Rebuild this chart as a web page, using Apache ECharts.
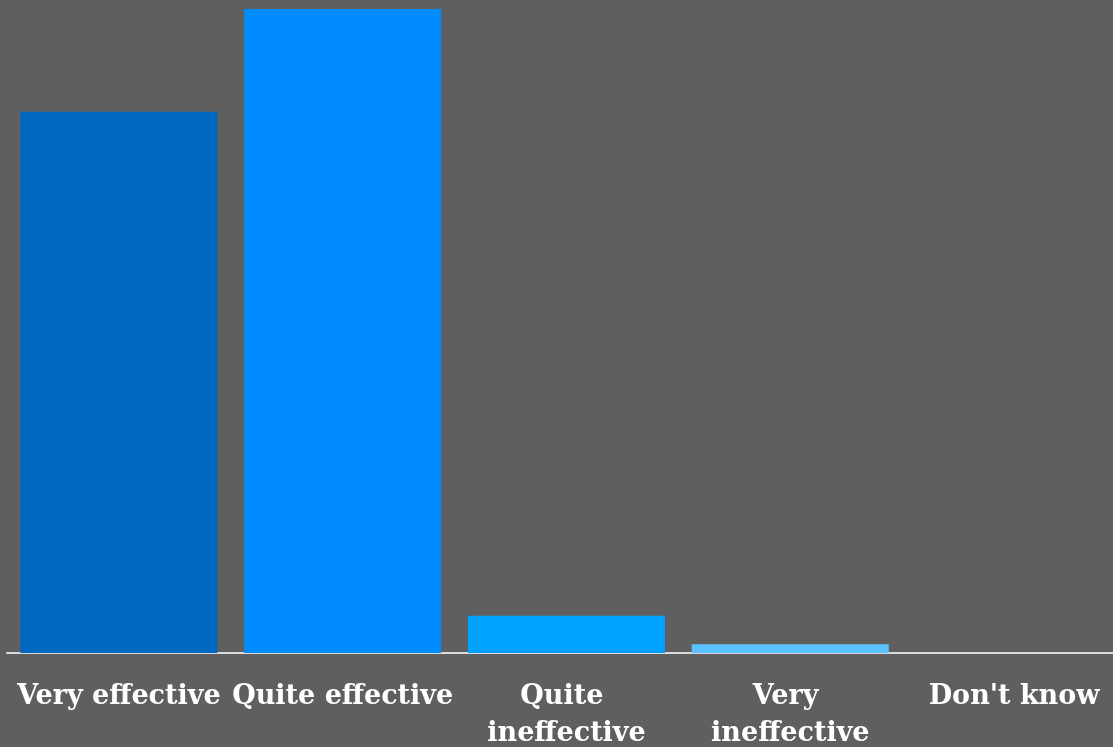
<!DOCTYPE html>
<html><head><meta charset="utf-8">
<script src="https://cdn.jsdelivr.net/npm/echarts@6/dist/echarts.min.js"></script>
<style>html,body{margin:0;padding:0;background:#5f5f5f}#c{width:1113px;height:747px}</style>
</head><body><div id="c"></div>
<script>
const categories = ["Very effective", "Quite effective", "Quite ineffective", "Very ineffective", "Don't know"];
const values = [43.7, 52, 3, 0.7, 0];
const barColors = ["#0068c0", "#008bff", "#00a2ff", "#5ac3ff", "#9fdcff"];

const chart = echarts.init(document.getElementById('c'), null, {renderer: 'canvas'});
chart.setOption({
  backgroundColor: '#5f5f5f',
  animation: false,
  grid: {left: 7, width: 1119, top: 9, bottom: 94, containLabel: false, outerBoundsMode: 'none'},
  xAxis: {
    type: 'category',
    data: categories,
    axisLine: {lineStyle: {color: '#d9d9d9', width: 2}},
    axisTick: {show: false},
    axisLabel: {
      color: '#ffffff', fontFamily: 'DejaVu Serif', fontWeight: 'bold', fontSize: 27,
      margin: 25, lineHeight: 37, width: 228, overflow: 'break', interval: 0
    }
  },
  yAxis: {type: 'value', min: 0, max: 52, show: false, splitLine: {show: false}},
  series: [{
    type: 'bar',
    barWidth: 197,
    data: values.map((v, i) => ({value: v, itemStyle: {color: barColors[i]}}))
  }]
});
</script></body></html>
